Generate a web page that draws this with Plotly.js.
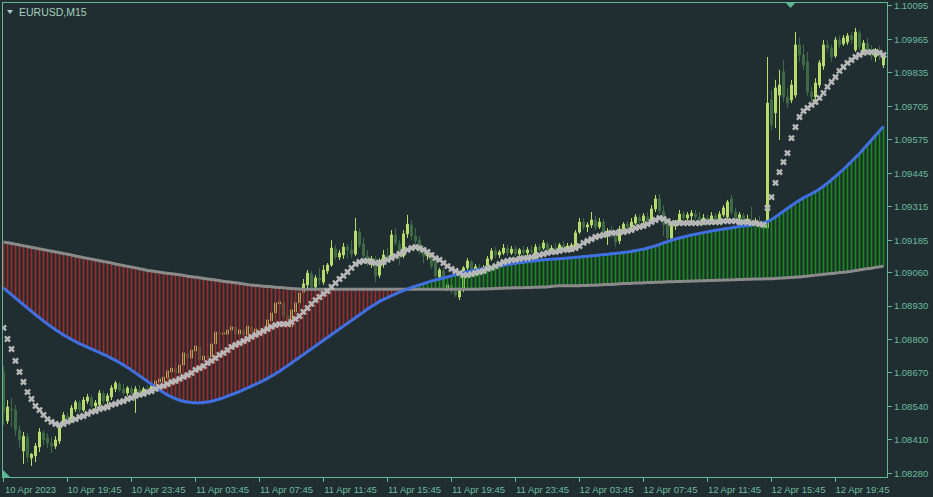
<!DOCTYPE html>
<html><head><meta charset="utf-8">
<script src="https://cdn.plot.ly/plotly-3.0.1.min.js"></script>
<style>html,body{margin:0;padding:0;background:#202e32;}#chart{width:933px;height:497px;}</style>
</head><body><div id="chart"></div>
<script>
const openP=[
1.08674,1.08484,1.08530,1.08526,1.08449,1.08367,1.08421,1.08340,1.08348,1.08383,
1.08437,1.08418,1.08398,1.08386,1.08406,1.08476,1.08503,1.08487,1.08530,1.08554,
1.08526,1.08561,1.08573,1.08542,1.08546,1.08589,1.08561,1.08577,1.08608,1.08627,
1.08608,1.08592,1.08608,1.08585,1.08604,1.08596,1.08604,1.08600,1.08619,1.08635,
1.08635,1.08651,1.08674,1.08686,1.08670,1.08701,1.08744,1.08728,1.08755,1.08771,
1.08720,1.08736,1.08732,1.08783,1.08825,1.08821,1.08821,1.08837,1.08849,1.08821,
1.08837,1.08818,1.08849,1.08829,1.08837,1.08825,1.08841,1.08872,1.08903,1.08938,
1.08942,1.08891,1.08849,1.08907,1.08942,1.08984,1.09012,1.09054,1.09004,1.09039,
1.09023,1.09066,1.09089,1.09151,1.09120,1.09128,1.09159,1.09148,1.09132,1.09217,
1.09171,1.09124,1.09101,1.09113,1.09050,1.09101,1.09124,1.09116,1.09206,1.09171,
1.09124,1.09210,1.09245,1.09202,1.09186,1.09140,1.09124,1.09124,1.09101,1.09043,
1.09066,1.08996,1.09012,1.08988,1.08965,1.08996,1.09078,1.09101,1.09054,1.09078,
1.09066,1.09085,1.09113,1.09144,1.09128,1.09136,1.09155,1.09136,1.09151,1.09132,
1.09148,1.09136,1.09148,1.09116,1.09159,1.09155,1.09171,1.09148,1.09155,1.09144,
1.09167,1.09151,1.09148,1.09159,1.09217,1.09256,1.09237,1.09245,1.09264,1.09237,
1.09256,1.09202,1.09221,1.09210,1.09183,1.09229,1.09248,1.09237,1.09252,1.09272,
1.09260,1.09276,1.09264,1.09307,1.09346,1.09299,1.09248,1.09194,1.09241,1.09260,
1.09287,1.09272,1.09280,1.09287,1.09276,1.09256,1.09272,1.09256,1.09280,1.09268,
1.09284,1.09276,1.09346,1.09295,1.09272,1.09280,1.09260,1.09264,1.09245,1.09256,
1.09241,1.09233,1.09730,1.09680,1.09749,1.09839,1.09742,1.09730,1.09749,1.09944,
1.09905,1.09878,1.09761,1.09742,1.09788,1.09862,1.09944,1.09932,1.09901,1.09963,
1.09948,1.09955,1.09979,1.09924,1.09990,1.09912,1.09951,1.09916,1.09897,1.09924,
1.09866];
const highP=[
1.08697,1.08565,1.08573,1.08546,1.08468,1.08441,1.08437,1.08359,1.08398,1.08456,
1.08449,1.08437,1.08421,1.08425,1.08468,1.08519,1.08515,1.08546,1.08565,1.08565,
1.08577,1.08589,1.08585,1.08565,1.08604,1.08600,1.08592,1.08623,1.08639,1.08635,
1.08627,1.08619,1.08619,1.08619,1.08623,1.08616,1.08623,1.08631,1.08651,1.08654,
1.08662,1.08689,1.08697,1.08701,1.08713,1.08759,1.08759,1.08767,1.08786,1.08779,
1.08752,1.08752,1.08790,1.08837,1.08841,1.08837,1.08845,1.08856,1.08860,1.08849,
1.08852,1.08868,1.08860,1.08852,1.08856,1.08852,1.08887,1.08911,1.08953,1.08953,
1.08953,1.08907,1.08926,1.08953,1.08992,1.09035,1.09070,1.09066,1.09050,1.09078,
1.09089,1.09097,1.09186,1.09167,1.09148,1.09175,1.09171,1.09186,1.09272,1.09233,
1.09194,1.09148,1.09124,1.09124,1.09116,1.09148,1.09155,1.09225,1.09233,1.09186,
1.09225,1.09284,1.09264,1.09233,1.09202,1.09163,1.09140,1.09140,1.09120,1.09078,
1.09078,1.09019,1.09027,1.09016,1.09012,1.09085,1.09116,1.09109,1.09093,1.09093,
1.09089,1.09124,1.09155,1.09159,1.09148,1.09171,1.09167,1.09163,1.09163,1.09155,
1.09163,1.09159,1.09167,1.09171,1.09171,1.09186,1.09179,1.09167,1.09175,1.09175,
1.09183,1.09175,1.09175,1.09225,1.09272,1.09272,1.09256,1.09295,1.09280,1.09272,
1.09268,1.09233,1.09241,1.09225,1.09241,1.09256,1.09260,1.09272,1.09287,1.09284,
1.09291,1.09295,1.09322,1.09361,1.09365,1.09322,1.09264,1.09252,1.09264,1.09303,
1.09299,1.09295,1.09303,1.09303,1.09295,1.09287,1.09284,1.09295,1.09291,1.09299,
1.09322,1.09342,1.09361,1.09311,1.09295,1.09291,1.09284,1.09315,1.09272,1.09280,
1.09264,1.09897,1.09769,1.09808,1.09847,1.09885,1.09777,1.09808,1.09994,1.09971,
1.09944,1.09916,1.09781,1.09815,1.09885,1.09963,1.09963,1.09944,1.09975,1.09979,
1.09982,1.09990,1.09994,1.10010,1.10002,1.09963,1.09971,1.09944,1.09932,1.09940,
1.09905];
const lowP=[
1.08468,1.08472,1.08460,1.08425,1.08379,1.08317,1.08324,1.08309,1.08324,1.08363,
1.08390,1.08379,1.08359,1.08375,1.08394,1.08464,1.08480,1.08476,1.08519,1.08515,
1.08519,1.08550,1.08530,1.08526,1.08534,1.08550,1.08546,1.08565,1.08596,1.08596,
1.08585,1.08581,1.08581,1.08515,1.08585,1.08581,1.08589,1.08592,1.08608,1.08619,
1.08623,1.08643,1.08658,1.08662,1.08662,1.08693,1.08713,1.08720,1.08744,1.08709,
1.08705,1.08713,1.08724,1.08775,1.08806,1.08806,1.08810,1.08825,1.08810,1.08806,
1.08806,1.08806,1.08818,1.08814,1.08814,1.08814,1.08833,1.08864,1.08891,1.08918,
1.08880,1.08829,1.08833,1.08895,1.08938,1.08969,1.08992,1.08992,1.08988,1.09012,
1.09012,1.09054,1.09082,1.09109,1.09109,1.09113,1.09113,1.09116,1.09124,1.09155,
1.09113,1.09085,1.09078,1.09023,1.09039,1.09078,1.09101,1.09109,1.09163,1.09089,
1.09116,1.09194,1.09186,1.09167,1.09128,1.09097,1.09109,1.09074,1.09035,1.09031,
1.08992,1.08988,1.08977,1.08965,1.08953,1.08984,1.09070,1.09043,1.09043,1.09054,
1.09054,1.09078,1.09105,1.09116,1.09116,1.09128,1.09124,1.09128,1.09124,1.09120,
1.09124,1.09124,1.09132,1.09109,1.09140,1.09148,1.09136,1.09132,1.09136,1.09136,
1.09140,1.09140,1.09140,1.09151,1.09210,1.09225,1.09217,1.09233,1.09225,1.09229,
1.09194,1.09167,1.09194,1.09159,1.09171,1.09217,1.09225,1.09229,1.09245,1.09241,
1.09248,1.09248,1.09256,1.09295,1.09287,1.09202,1.09186,1.09183,1.09225,1.09248,
1.09256,1.09260,1.09256,1.09264,1.09245,1.09245,1.09241,1.09248,1.09256,1.09256,
1.09276,1.09268,1.09284,1.09256,1.09241,1.09245,1.09241,1.09229,1.09233,1.09233,
1.09214,1.09221,1.09614,1.09621,1.09575,1.09722,1.09699,1.09718,1.09738,1.09878,
1.09847,1.09746,1.09722,1.09730,1.09777,1.09847,1.09916,1.09878,1.09893,1.09932,
1.09940,1.09944,1.09948,1.09916,1.09924,1.09905,1.09905,1.09885,1.09878,1.09885,
1.09854];
const closeP=[
1.08518,1.08538,1.08526,1.08449,1.08410,1.08425,1.08344,1.08355,1.08386,1.08441,
1.08410,1.08398,1.08386,1.08410,1.08456,1.08507,1.08487,1.08534,1.08557,1.08526,
1.08565,1.08577,1.08542,1.08554,1.08592,1.08561,1.08581,1.08612,1.08631,1.08604,
1.08592,1.08612,1.08592,1.08608,1.08596,1.08608,1.08600,1.08619,1.08639,1.08647,
1.08654,1.08678,1.08689,1.08670,1.08701,1.08748,1.08728,1.08759,1.08775,1.08720,
1.08736,1.08728,1.08783,1.08829,1.08821,1.08825,1.08837,1.08849,1.08821,1.08837,
1.08818,1.08852,1.08829,1.08841,1.08825,1.08841,1.08876,1.08903,1.08942,1.08946,
1.08891,1.08852,1.08915,1.08942,1.08981,1.09016,1.09058,1.09004,1.09039,1.09031,
1.09070,1.09089,1.09155,1.09120,1.09136,1.09159,1.09148,1.09132,1.09221,1.09167,
1.09124,1.09101,1.09113,1.09047,1.09101,1.09128,1.09113,1.09206,1.09175,1.09120,
1.09210,1.09248,1.09202,1.09183,1.09140,1.09124,1.09128,1.09085,1.09047,1.09070,
1.09004,1.09012,1.08988,1.08973,1.09000,1.09078,1.09105,1.09054,1.09082,1.09066,
1.09078,1.09113,1.09144,1.09128,1.09140,1.09155,1.09136,1.09151,1.09132,1.09148,
1.09136,1.09148,1.09140,1.09159,1.09148,1.09175,1.09148,1.09155,1.09144,1.09167,
1.09151,1.09163,1.09167,1.09214,1.09256,1.09237,1.09245,1.09264,1.09237,1.09256,
1.09206,1.09221,1.09210,1.09179,1.09229,1.09248,1.09237,1.09256,1.09276,1.09260,
1.09280,1.09264,1.09307,1.09346,1.09299,1.09245,1.09194,1.09241,1.09256,1.09287,
1.09272,1.09284,1.09291,1.09276,1.09256,1.09272,1.09256,1.09280,1.09268,1.09287,
1.09311,1.09334,1.09295,1.09272,1.09284,1.09260,1.09268,1.09245,1.09256,1.09241,
1.09229,1.09718,1.09633,1.09777,1.09788,1.09742,1.09718,1.09788,1.09944,1.09905,
1.09866,1.09761,1.09742,1.09796,1.09874,1.09944,1.09932,1.09897,1.09963,1.09944,
1.09971,1.09979,1.09963,1.09994,1.09936,1.09951,1.09916,1.09901,1.09924,1.09901,
1.09897];
const fastMA=[
1.09000,1.08987,1.08974,1.08961,1.08948,1.08935,1.08922,1.08909,1.08896,1.08884,
1.08872,1.08860,1.08849,1.08838,1.08828,1.08818,1.08809,1.08800,1.08792,1.08784,
1.08777,1.08770,1.08763,1.08756,1.08749,1.08742,1.08735,1.08727,1.08719,1.08710,
1.08701,1.08691,1.08681,1.08670,1.08659,1.08648,1.08637,1.08626,1.08615,1.08604,
1.08594,1.08585,1.08577,1.08570,1.08564,1.08560,1.08557,1.08555,1.08554,1.08554,
1.08555,1.08557,1.08560,1.08564,1.08569,1.08574,1.08580,1.08586,1.08592,1.08598,
1.08605,1.08612,1.08619,1.08626,1.08633,1.08641,1.08649,1.08658,1.08667,1.08677,
1.08687,1.08698,1.08709,1.08720,1.08731,1.08742,1.08753,1.08764,1.08775,1.08786,
1.08797,1.08808,1.08819,1.08830,1.08841,1.08852,1.08863,1.08874,1.08885,1.08896,
1.08907,1.08918,1.08928,1.08938,1.08948,1.08956,1.08963,1.08970,1.08977,1.08984,
1.08990,1.08996,1.09002,1.09007,1.09012,1.09017,1.09022,1.09027,1.09031,1.09035,
1.09039,1.09043,1.09047,1.09051,1.09055,1.09059,1.09063,1.09066,1.09069,1.09072,
1.09075,1.09078,1.09081,1.09084,1.09086,1.09089,1.09091,1.09094,1.09096,1.09098,
1.09100,1.09102,1.09104,1.09106,1.09108,1.09110,1.09111,1.09112,1.09113,1.09114,
1.09115,1.09116,1.09117,1.09119,1.09120,1.09122,1.09123,1.09125,1.09126,1.09128,
1.09130,1.09131,1.09133,1.09134,1.09136,1.09138,1.09140,1.09142,1.09145,1.09148,
1.09151,1.09155,1.09159,1.09164,1.09169,1.09175,1.09180,1.09185,1.09190,1.09194,
1.09198,1.09202,1.09206,1.09209,1.09212,1.09215,1.09218,1.09221,1.09224,1.09226,
1.09229,1.09231,1.09234,1.09236,1.09239,1.09241,1.09243,1.09245,1.09247,1.09250,
1.09253,1.09258,1.09266,1.09276,1.09287,1.09298,1.09309,1.09320,1.09331,1.09341,
1.09350,1.09358,1.09366,1.09374,1.09384,1.09395,1.09407,1.09420,1.09433,1.09447,
1.09461,1.09476,1.09491,1.09507,1.09522,1.09540,1.09557,1.09575,1.09592,1.09610,
1.09627];
const slowMA=[
1.09179,1.09176,1.09173,1.09170,1.09167,1.09164,1.09161,1.09158,1.09155,1.09152,
1.09149,1.09146,1.09143,1.09140,1.09137,1.09134,1.09131,1.09128,1.09124,1.09121,
1.09118,1.09115,1.09112,1.09109,1.09106,1.09103,1.09100,1.09097,1.09093,1.09090,
1.09087,1.09084,1.09081,1.09078,1.09075,1.09072,1.09068,1.09066,1.09064,1.09062,
1.09059,1.09057,1.09055,1.09053,1.09051,1.09049,1.09046,1.09044,1.09042,1.09040,
1.09037,1.09035,1.09033,1.09031,1.09029,1.09026,1.09024,1.09022,1.09020,1.09018,
1.09016,1.09013,1.09011,1.09010,1.09009,1.09007,1.09006,1.09005,1.09003,1.09002,
1.09001,1.08999,1.08998,1.08997,1.08996,1.08995,1.08995,1.08995,1.08995,1.08995,
1.08995,1.08995,1.08995,1.08995,1.08995,1.08995,1.08995,1.08995,1.08995,1.08995,
1.08995,1.08995,1.08995,1.08995,1.08995,1.08995,1.08995,1.08995,1.08995,1.08995,
1.08995,1.08995,1.08995,1.08995,1.08995,1.08995,1.08995,1.08995,1.08995,1.08995,
1.08995,1.08995,1.08995,1.08995,1.08995,1.08995,1.08995,1.08995,1.08995,1.08996,
1.08996,1.08997,1.08997,1.08998,1.08999,1.08999,1.09000,1.09000,1.09001,1.09001,
1.09001,1.09002,1.09002,1.09003,1.09003,1.09004,1.09004,1.09006,1.09008,1.09009,
1.09009,1.09009,1.09009,1.09009,1.09009,1.09010,1.09010,1.09011,1.09011,1.09012,
1.09013,1.09014,1.09014,1.09015,1.09016,1.09017,1.09017,1.09018,1.09019,1.09019,
1.09020,1.09021,1.09021,1.09022,1.09022,1.09023,1.09024,1.09024,1.09025,1.09025,
1.09026,1.09026,1.09027,1.09027,1.09028,1.09028,1.09029,1.09029,1.09030,1.09030,
1.09031,1.09031,1.09032,1.09032,1.09033,1.09033,1.09034,1.09034,1.09035,1.09035,
1.09035,1.09036,1.09036,1.09037,1.09038,1.09039,1.09040,1.09041,1.09042,1.09043,
1.09045,1.09046,1.09048,1.09050,1.09051,1.09053,1.09055,1.09056,1.09058,1.09060,
1.09061,1.09063,1.09065,1.09068,1.09070,1.09073,1.09075,1.09077,1.09080,1.09082,
1.09084];
const crossSig=[
1.08845,1.08802,1.08763,1.08717,1.08674,1.08635,1.08596,1.08569,1.08542,1.08526,
1.08507,1.08491,1.08480,1.08472,1.08468,1.08472,1.08480,1.08487,1.08491,1.08499,
1.08503,1.08511,1.08519,1.08522,1.08530,1.08534,1.08538,1.08546,1.08550,1.08557,
1.08561,1.08569,1.08573,1.08581,1.08585,1.08589,1.08596,1.08600,1.08608,1.08616,
1.08620,1.08627,1.08635,1.08639,1.08647,1.08655,1.08662,1.08670,1.08682,1.08689,
1.08697,1.08709,1.08717,1.08728,1.08740,1.08748,1.08759,1.08771,1.08779,1.08786,
1.08794,1.08802,1.08810,1.08818,1.08825,1.08833,1.08841,1.08849,1.08856,1.08860,
1.08860,1.08860,1.08868,1.08880,1.08891,1.08907,1.08922,1.08938,1.08953,1.08965,
1.08977,1.08988,1.09004,1.09019,1.09035,1.09047,1.09062,1.09078,1.09093,1.09101,
1.09105,1.09105,1.09101,1.09097,1.09097,1.09101,1.09109,1.09116,1.09124,1.09132,
1.09140,1.09148,1.09155,1.09159,1.09155,1.09148,1.09140,1.09128,1.09116,1.09109,
1.09097,1.09085,1.09074,1.09066,1.09058,1.09050,1.09050,1.09054,1.09058,1.09062,
1.09066,1.09074,1.09078,1.09085,1.09093,1.09101,1.09105,1.09109,1.09109,1.09113,
1.09116,1.09116,1.09120,1.09124,1.09128,1.09132,1.09136,1.09140,1.09140,1.09144,
1.09148,1.09148,1.09151,1.09155,1.09163,1.09175,1.09183,1.09190,1.09198,1.09202,
1.09206,1.09210,1.09214,1.09214,1.09217,1.09217,1.09221,1.09225,1.09233,1.09237,
1.09241,1.09248,1.09256,1.09264,1.09272,1.09268,1.09260,1.09252,1.09252,1.09252,
1.09252,1.09252,1.09252,1.09252,1.09252,1.09256,1.09256,1.09256,1.09256,1.09256,
1.09260,1.09260,1.09260,1.09260,1.09256,1.09256,1.09256,1.09252,1.09252,1.09248,
1.09245,1.09311,1.09353,1.09408,1.09450,1.09489,1.09524,1.09582,1.09625,1.09664,
1.09687,1.09699,1.09711,1.09722,1.09738,1.09757,1.09781,1.09800,1.09819,1.09843,
1.09858,1.09874,1.09885,1.09897,1.09905,1.09913,1.09916,1.09916,1.09916,1.09913,
1.09905];
const xTickLabels=["10 Apr 2023","10 Apr 19:45","10 Apr 23:45","11 Apr 03:45","11 Apr 07:45","11 Apr 11:45","11 Apr 15:45","11 Apr 19:45","11 Apr 23:45","12 Apr 03:45","12 Apr 07:45","12 Apr 11:45","12 Apr 15:45","12 Apr 19:45"];
const xTickBars=[0,16,32,48,64,80,96,112,128,144,160,176,192,208];
const yTickLabels=["1.08280","1.08410","1.08540","1.08670","1.08800","1.08930","1.09060","1.09185","1.09315","1.09445","1.09575","1.09705","1.09835","1.09965","1.10095"];

const n=closeP.length;
const idx=[];for(let i=0;i<n;i++)idx.push(i);
const histLen=[],histCol=[];
for(let i=0;i<n;i++){
  histLen.push(fastMA[i]-slowMA[i]);
  histCol.push(slowMA[i]>=fastMA[i]?'#a82828':'#168f16');
}
const axisCol='#5fb894', txtCol='#6cbb9c', bg='#202e32';
const XR=[-0.125,220.875], YR=[1.082661,1.101066];
const traces=[
 {type:'candlestick',x:idx,open:openP,high:highP,low:lowP,close:closeP,whiskerwidth:0,hoverinfo:'skip',
  increasing:{line:{color:'#b9dc6c',width:1},fillcolor:'#b9dc6c'},
  decreasing:{line:{color:'#3f6c47',width:1},fillcolor:'#3f6c47'}},
 {type:'scatter',mode:'lines',x:idx,y:slowMA,xaxis:'x2',yaxis:'y2',line:{color:'#8a8a8a',width:3,shape:'spline',smoothing:0.8},hoverinfo:'skip'},
 {type:'bar',x:idx,y:histLen,base:slowMA,width:0.4,xaxis:'x2',yaxis:'y2',marker:{color:histCol,line:{width:0}},hoverinfo:'skip'},
 {type:'scatter',mode:'lines',x:idx,y:fastMA,xaxis:'x2',yaxis:'y2',line:{color:'#3f6fe0',width:3,shape:'spline',smoothing:0.8},hoverinfo:'skip'},
 {type:'scatter',mode:'markers',x:idx,y:crossSig,xaxis:'x2',yaxis:'y2',marker:{symbol:'x',size:6,color:'#b8b8b8',line:{width:0}},hoverinfo:'skip'}
];
const L=3,R=887,T=3,B=477,W=R-L,H=B-T;
const px=v=>(v-L)/W, py=v=>1-(v-T)/H;
const layout={
 width:933,height:497,margin:{l:L,r:933-R,t:T,b:497-B},
 paper_bgcolor:bg,plot_bgcolor:bg,showlegend:false,
 xaxis:{range:XR,tickmode:'array',tickvals:xTickBars,ticktext:xTickLabels,ticks:'outside',ticklen:4,tickcolor:axisCol,
  showline:true,linecolor:axisCol,linewidth:1,mirror:true,showgrid:false,zeroline:false,ticklabelshift:27,
  tickfont:{family:'Liberation Sans',size:9.5,color:txtCol},rangeslider:{visible:false},fixedrange:true},
 yaxis:{side:'right',range:YR,tickmode:'array',tickvals:yTickLabels.map(Number),ticktext:yTickLabels,
  ticks:'outside',ticklen:4,tickcolor:axisCol,showline:true,linecolor:axisCol,linewidth:1,mirror:true,showgrid:false,zeroline:false,
  tickfont:{family:'Liberation Sans',size:9.5,color:txtCol},fixedrange:true},
 xaxis2:{overlaying:'x',range:XR,visible:false,fixedrange:true},
 yaxis2:{overlaying:'y',range:YR,visible:false,fixedrange:true},
 annotations:[{text:'EURUSD,M15',xref:'paper',yref:'paper',x:px(17),y:py(12),xanchor:'left',yanchor:'middle',showarrow:false,
  font:{family:'Liberation Sans',size:10.5,color:'#a6cfbd'}}],
 shapes:[
  {type:'path',xref:'paper',yref:'paper',path:`M ${px(7)} ${py(10)} L ${px(13)} ${py(10)} L ${px(10)} ${py(14)} Z`,fillcolor:'#a6cfbd',line:{width:0}},
  {type:'path',xref:'paper',yref:'paper',path:`M ${px(786)} ${py(3)} L ${px(795)} ${py(3)} L ${px(790.5)} ${py(8)} Z`,fillcolor:axisCol,line:{width:0}},
  {type:'path',xref:'paper',yref:'paper',path:`M ${px(3)} ${py(470)} L ${px(3)} ${py(477)} L ${px(10)} ${py(477)} Z`,fillcolor:axisCol,line:{width:0}}
 ]
};
Plotly.newPlot('chart',traces,layout,{displayModeBar:false,staticPlot:true});
</script></body></html>
